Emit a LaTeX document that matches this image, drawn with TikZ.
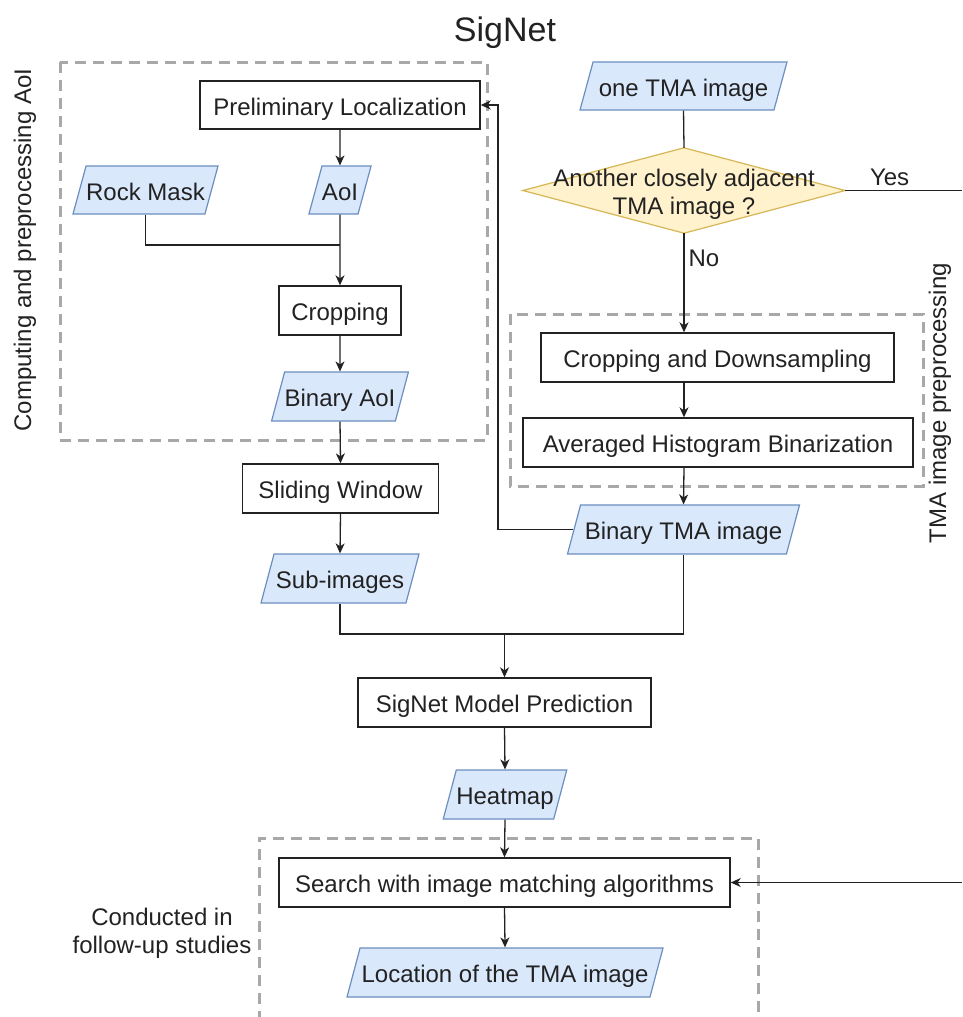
\documentclass[tikz,border=0pt]{standalone}
\usepackage{fontspec}
\setmainfont{Liberation Sans}
\usetikzlibrary{shapes.geometric,arrows.meta,backgrounds}

\definecolor{ink}{RGB}{34,34,34}
\definecolor{iofill}{HTML}{DAE8FC}
\definecolor{iodraw}{HTML}{6C8EBF}
\definecolor{decfill}{HTML}{FFF2CC}
\definecolor{decdraw}{HTML}{D6B656}
\definecolor{groupgray}{RGB}{168,168,168}

\tikzset{
  txt/.style={font=\fontsize{24}{28}\selectfont, text=ink, inner sep=0pt},
  oneline/.style={txt, text height=24pt, text depth=4pt},
  proc/.style={oneline, draw=ink, line width=1.4pt, fill=white, rectangle},
  io/.style={oneline, trapezium, trapezium left angle=65, trapezium right angle=115,
    trapezium stretches body, draw=iodraw, line width=1.2pt, fill=iofill,
    minimum height=48},
  decision/.style={draw=decdraw, fill=decfill, line width=1.2pt},
  group/.style={draw=groupgray, line width=3pt, dash pattern=on 11pt off 7pt},
  link/.style={draw=ink, line width=1.3pt},
  arr/.style={link, -{Stealth[length=10pt,width=9pt,inset=3pt]}},
}

\begin{document}
\begin{tikzpicture}[x=1pt, y=-1pt]
\clip (0,0) rectangle (962,1017);
\useasboundingbox (0,0) rectangle (962,1017);

% title
\node[txt, font=\fontsize{34}{40}\selectfont] (title) at (505,33) {SigNet};

% group frames
\draw[group] (60,62) rectangle (487,440);
\draw[group] (510,314) rectangle (923,486);
\draw[group] (259,1040) -- (259,838) -- (758,838) -- (758,1040);

\node[txt, rotate=90] (glabA) at (25,250) {Computing and preprocessing AoI};
\node[txt, rotate=90] (glabB) at (940,403) {TMA image preprocessing};
\node[txt, align=center] (glabC) at (162,933) {Conducted in\\follow-up studies};

% left column
\node[proc, minimum width=280, minimum height=48] (pre) at (340,105) {Preliminary Localization};
\node[io, minimum width=145] (rock) at (145.5,190) {Rock Mask};
\node[io, minimum width=60] (aoi) at (340,190) {AoI};
\node[proc, minimum width=122, minimum height=49] (crop) at (340,310.5) {Cropping};
\node[io, minimum width=134, minimum height=49] (baoi) at (340,396.5) {Binary AoI};
\node[proc, minimum width=196, minimum height=49] (slide) at (340.5,488.5) {Sliding Window};
\node[io, minimum width=158, minimum height=49] (sub) at (340,578.5) {Sub-images};

% right column
\node[io, minimum width=207] (one) at (683.5,86) {one TMA image};
\node[inner sep=0pt, minimum width=322, minimum height=85] (dia) at (684,190.5) {};
\begin{scope}[on background layer]
  \path[decision] (dia.north) -- (dia.east) -- (dia.south) -- (dia.west) -- cycle;
\end{scope}
\node[txt, align=center] (diatext) at (684,194) {Another closely adjacent\\TMA image ?};
\node[proc, minimum width=353, minimum height=49] (cds) at (717.5,357.5) {Cropping and Downsampling};
\node[proc, minimum width=390, minimum height=49] (ahb) at (718,442.5) {Averaged Histogram Binarization};
\node[io, minimum width=232, minimum height=49] (btma) at (683.5,529.5) {Binary TMA image};

% lower column
\node[proc, minimum width=293, minimum height=49] (sig) at (504.5,702.5) {SigNet Model Prediction};
\node[io, minimum width=122, minimum height=49] (heat) at (505,794.5) {Heatmap};
\node[proc, minimum width=451, minimum height=49] (search) at (504.5,882.5) {Search with image matching algorithms};
\node[io, minimum width=316, minimum height=49] (loc) at (505,972.5) {Location of the TMA image};

% helper coordinates
\coordinate (jrow) at (0,245);
\coordinate (mrow) at (0,634);
\coordinate (back) at (498,0);
\coordinate (yesend) at (962,190.5);
\coordinate (srcin) at (962,882.5);

% connectors, left column
\draw[arr] (pre.south) -- (aoi.north);
\draw[link] (rock.south) -- (rock.south |- jrow) -- (aoi.south |- jrow);
\draw[arr] (aoi.south) -- (crop.north);
\draw[arr] (crop.south) -- (baoi.north);
\draw[arr] (baoi.south) -- (slide.north);
\draw[arr] (slide.south) -- (sub.north);

% connectors, right column
\draw[link] (one.south) -- (dia.north);
\draw[link] (dia.east) -- node[txt, above=4pt, pos=0.38] (yes) {Yes} (yesend);
\draw[arr] (dia.south) -- node[txt, right=4pt, pos=0.25] (no) {No} (dia.south |- cds.north);
\draw[arr] (dia.south |- cds.south) -- (dia.south |- ahb.north);
\draw[arr] (dia.south |- ahb.south) -- (btma.north);
\draw[arr] (btma.west) -- (btma.west -| back) -- (back |- pre.east) -- (pre.east);

% merge and lower column
\draw[link] (sub.south) -- (sub.south |- mrow) -- (btma.south |- mrow) -- (btma.south);
\draw[arr] (sig.north |- mrow) -- (sig.north);
\draw[arr] (sig.south) -- (heat.north);
\draw[arr] (heat.south) -- (search.north);
\draw[arr] (search.south) -- (loc.north);
\draw[arr] (srcin) -- (search.east);
\end{tikzpicture}
\end{document}
